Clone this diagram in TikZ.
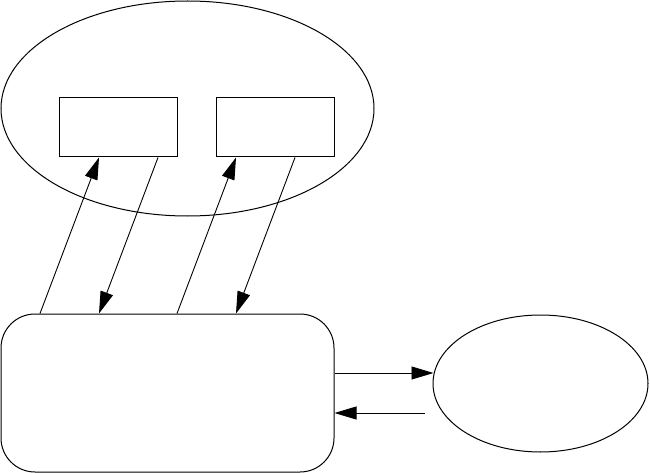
\documentclass[tikz,border=0pt]{standalone}
\usetikzlibrary{shapes.geometric,arrows.meta}
\tikzset{
  ln/.style={line width=1pt, draw=black},
  box/.style={ln, rectangle, minimum width=118pt, minimum height=59pt, inner sep=0pt},
  ell/.style={ln, ellipse, inner sep=0pt},
  conn/.style={line width=0.9pt, -{Triangle[length=22pt,width=13pt]}},
}
\begin{document}
\begin{tikzpicture}[x=1pt,y=-1pt]
\useasboundingbox (0,0) rectangle (650,473);
\node[ell, minimum width=373pt, minimum height=215pt] (big) at (187.5,108.5) {};
\node[box] (r1) at (118,127.5) {};
\node[box] (r2) at (275,127.5) {};
\node[ln, rectangle, rounded corners=34pt, minimum width=333pt, minimum height=158pt, inner sep=0pt] (rr) at (167.5,393) {};
\node[ell, minimum width=215pt, minimum height=137pt] (sm) at (540.5,383.5) {};
\draw[conn] ([xshift=-127.5pt]rr.north) -- ([xshift=-19pt]r1.south);
\draw[conn] ([xshift=40pt]r1.south) -- ([xshift=-68.5pt]rr.north);
\draw[conn] ([xshift=9.5pt]rr.north) -- ([xshift=-39pt]r2.south);
\draw[conn] ([xshift=20pt]r2.south) -- ([xshift=68.5pt]rr.north);
\draw[conn] ([yshift=20pt]rr.east) -- ([yshift=10.5pt,xshift=1pt]sm.west);
\draw[conn] ([yshift=-29.5pt,xshift=-8pt]sm.west) -- ([yshift=-20pt]rr.east);
\end{tikzpicture}
\end{document}
